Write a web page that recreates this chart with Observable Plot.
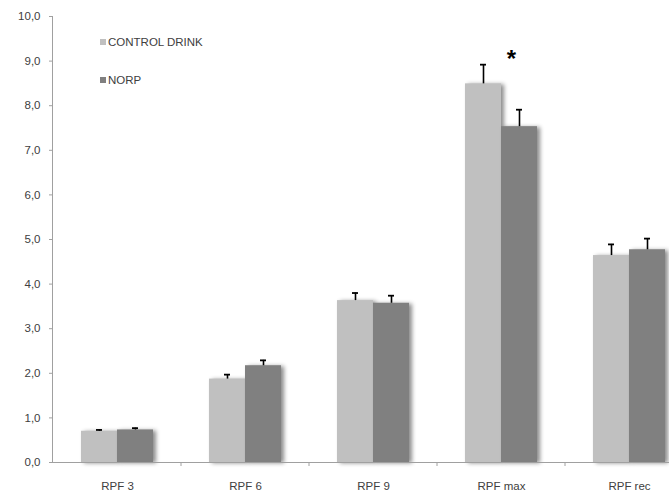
<!DOCTYPE html>
<html>
<head>
<meta charset="utf-8">
<script src="https://cdn.jsdelivr.net/npm/d3@7"></script>
<script src="https://cdn.jsdelivr.net/npm/@observablehq/plot@0.6"></script>
<style>
  html, body { margin: 0; padding: 0; background: #fff; overflow: hidden; }
  #wrap { position: relative; width: 669px; height: 493px; overflow: hidden; }
  .legend { position: absolute; left: 100px; font: 11.5px "Liberation Sans", Arial, sans-serif; color: #404040; line-height: 12px; }
  .legend span.sw { display: inline-block; width: 6px; height: 6px; margin-right: 2px; vertical-align: 1px; }
</style>
</head>
<body>
<div id="wrap"></div>
<script>
const categories = ["RPF 3", "RPF 6", "RPF 9", "RPF max", "RPF rec"];
const series = ["CONTROL DRINK", "NORP"];
const controlValues = [0.70, 1.87, 3.63, 8.49, 4.64];
const controlErrors = [0.03, 0.10, 0.17, 0.43, 0.25];
const norpValues = [0.73, 2.17, 3.57, 7.53, 4.77];
const norpErrors = [0.04, 0.12, 0.17, 0.38, 0.25];
const yTicks = [0, 1, 2, 3, 4, 5, 6, 7, 8, 9, 10];
const significance = [{category: "RPF max", series: "NORP", y: 9.05, label: "*"}];
const colors = ["#c0c0c0", "#808080"];

const data = [];
categories.forEach((c, i) => {
  data.push({category: c, series: series[0], value: controlValues[i], err: controlErrors[i]});
  data.push({category: c, series: series[1], value: norpValues[i], err: norpErrors[i]});
});

const fmt = d => d.toFixed(1).replace(".", ",");

const chart = Plot.plot({
  width: 669,
  height: 493,
  marginLeft: 52,
  marginRight: 0,
  marginTop: 16,
  marginBottom: 31,
  style: {fontFamily: "'Liberation Sans', Arial, sans-serif", fontSize: "11px", color: "#404040", background: "#fff", overflow: "hidden"},
  fx: {domain: categories, range: [52, 694], padding: 0, label: null},
  x: {domain: series, padding: 0, paddingOuter: 0.75, axis: null},
  y: {domain: [0, 10], ticks: yTicks, label: null},
  color: {domain: series, range: colors},
  marks: [
    Plot.barY(data, {fx: "category", x: "series", y: "value", fill: "series", className: "bars"}),
    Plot.ruleX(data, {fx: "category", x: "series", y1: "value", y2: d => d.value + d.err, stroke: "#000", strokeWidth: 1.6}),
    Plot.tickY(data, {fx: "category", x: "series", y: d => d.value + d.err, stroke: "#000", strokeWidth: 1.8, insetLeft: 15, insetRight: 15}),
    Plot.text(significance, {fx: "category", x: "series", y: "y", text: "label", dx: -8, fontSize: 24, fontWeight: "bold", fill: "#000"}),
    Plot.axisY({ticks: yTicks, tickFormat: fmt, tickSize: 4, tickPadding: 9, stroke: "#a0a0a0", fill: "#404040", fontSize: 11.5}),
    Plot.ruleY([0], {stroke: "#a0a0a0"}),
    Plot.axisFx({anchor: "bottom", tickSize: 0, tickPadding: 19, fill: "#404040", fontSize: 11.5, label: null})
  ]
});

document.getElementById("wrap").appendChild(chart);

// drop shadows on the bars, as in the reference
d3.select(chart).selectAll("g.bars rect").style("filter", "drop-shadow(3px 1px 2px rgba(0,0,0,0.45))");

const fxScale = chart.scale("fx");
const ySc = chart.scale("y");
const y0 = ySc.apply(0);
const svg = d3.select(chart);
// y-axis line
svg.append("line").attr("x1", 52.5).attr("x2", 52.5).attr("y1", ySc.apply(10)).attr("y2", y0).attr("stroke", "#a0a0a0");
// x-axis ticks at category boundaries
categories.forEach(c => {
  const xs = fxScale.apply(c) + fxScale.bandwidth;
  svg.append("line").attr("x1", xs).attr("x2", xs).attr("y1", y0).attr("y2", y0 + 4).attr("stroke", "#a0a0a0");
});

// legend
const wrap = document.getElementById("wrap");
series.forEach((s, i) => {
  const div = document.createElement("div");
  div.className = "legend";
  div.style.top = (36 + i * 38) + "px";
  div.innerHTML = `<span class="sw" style="background:${colors[i]}"></span>${s}`;
  wrap.appendChild(div);
});
</script>
</body>
</html>
